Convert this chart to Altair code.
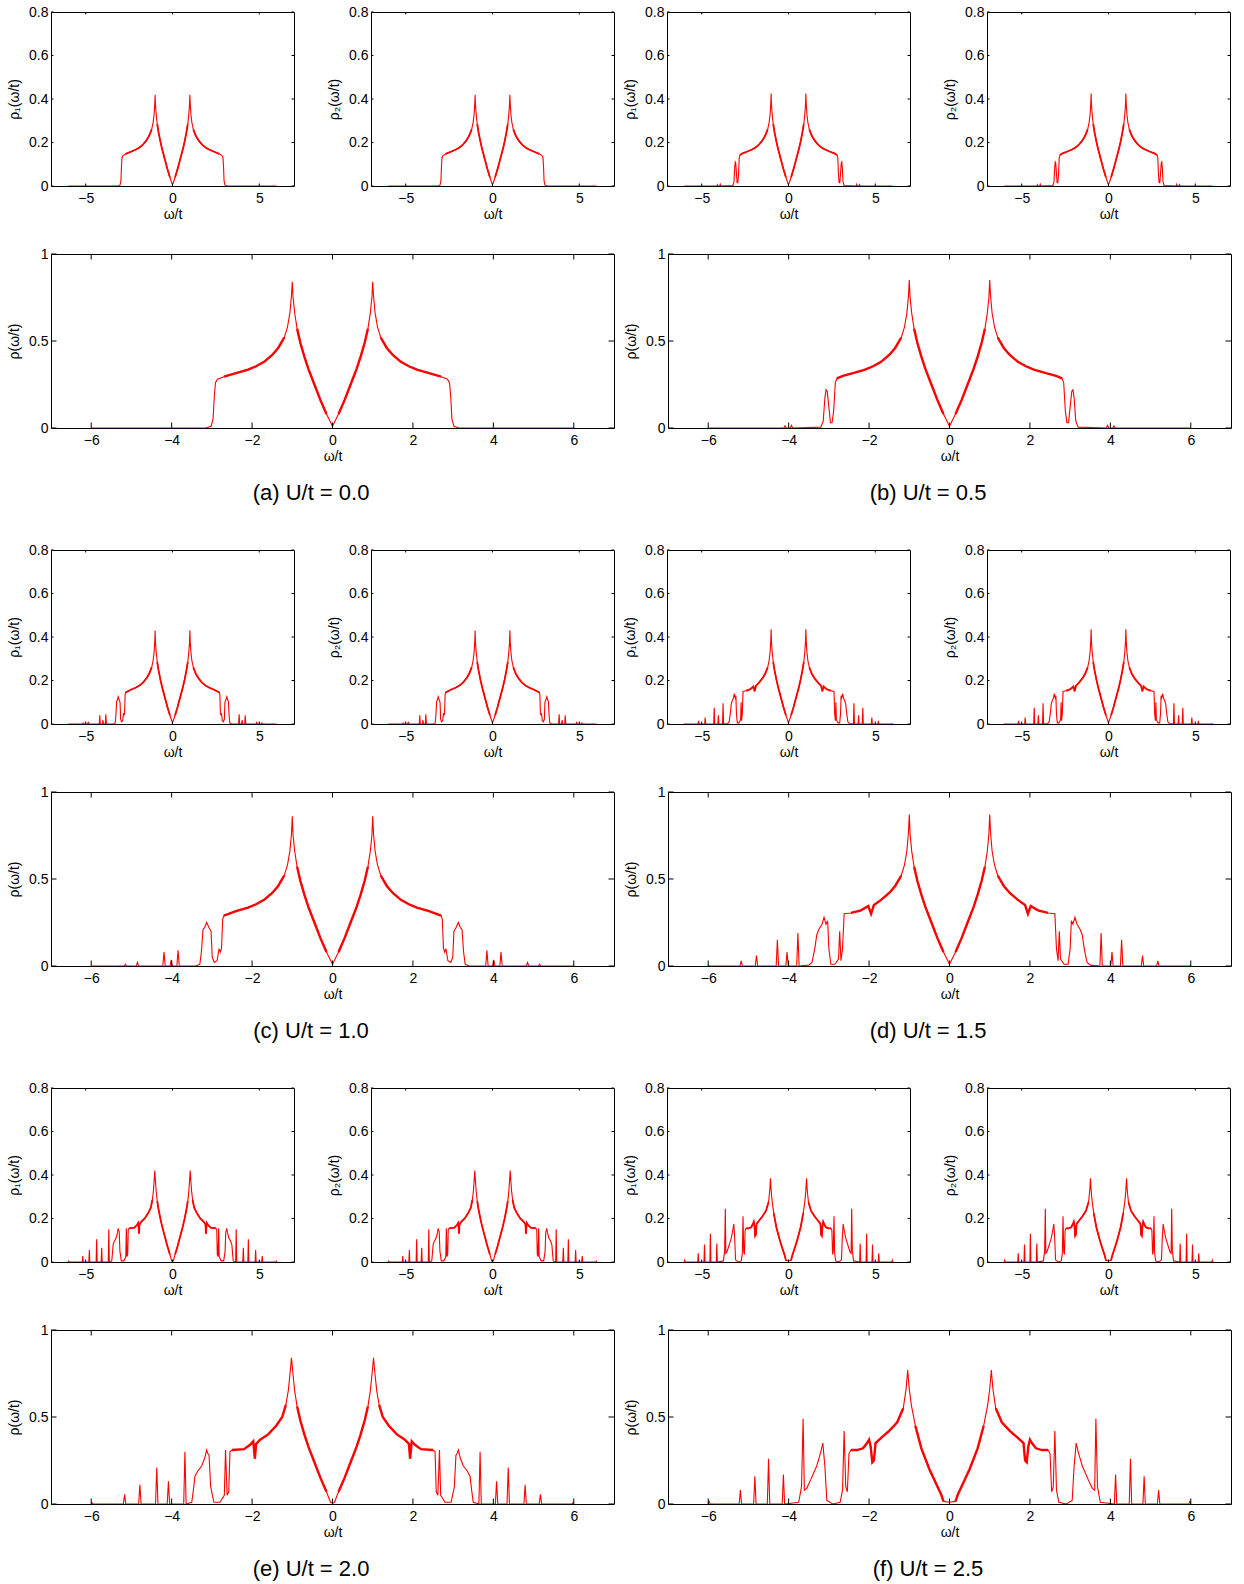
import altair as alt
import pandas as pd

FONT = "Liberation Sans"
RED = "#ff0000"

# ---------------- tick values / captions ----------------
X_TICKS_SMALL = [-5, 0, 5]
X_TICKS_BIG = [-6, -4, -2, 0, 2, 4, 6]
Y_TICKS_SMALL = [0, 0.2, 0.4, 0.6, 0.8]
Y_TICKS_BIG = [0, 0.5, 1]

CAPTIONS = {
    "a": "(a) U/t = 0.0",
    "b": "(b) U/t = 0.5",
    "c": "(c) U/t = 1.0",
    "d": "(d) U/t = 1.5",
    "e": "(e) U/t = 2.0",
    "f": "(f) U/t = 2.5",
}

# ---------------- data: total DOS rho(w/t), read for w >= 0 ----------------
# (every curve in the figure is symmetric about w = 0; rho1 = rho2 = rho/2)
W_A = [0.0, 0.15, 0.3, 0.45, 0.6, 0.7, 0.8, 0.88, 0.94, 0.98, 1.0, 1.02, 1.06, 1.12,
       1.2, 1.35, 1.5, 1.7, 1.9, 2.1, 2.4, 2.7, 2.86, 2.91, 2.94, 2.97, 3.02, 3.15, 6.0]
R_A = [0.01, 0.08, 0.16, 0.25, 0.34, 0.41, 0.49, 0.57, 0.66, 0.75, 0.84, 0.76, 0.66, 0.58,
       0.52, 0.46, 0.42, 0.38, 0.355, 0.335, 0.315, 0.295, 0.28, 0.26, 0.18, 0.05, 0.01, 0.0, 0.0]

W_B = [0.0, 0.15, 0.3, 0.45, 0.6, 0.7, 0.8, 0.88, 0.94, 0.98, 1.0, 1.02, 1.06, 1.12,
       1.2, 1.35, 1.5, 1.7, 1.9, 2.1, 2.4, 2.65, 2.8, 2.84, 2.88, 2.92, 2.96, 3.0, 3.04,
       3.07, 3.1, 3.14, 3.2, 3.9, 3.93, 3.96, 4.06, 4.09, 4.12, 6.0]
R_B = [0.01, 0.08, 0.16, 0.25, 0.34, 0.41, 0.49, 0.57, 0.66, 0.75, 0.85, 0.76, 0.66, 0.58,
       0.52, 0.46, 0.42, 0.38, 0.355, 0.335, 0.315, 0.3, 0.285, 0.26, 0.1, 0.03, 0.03, 0.12, 0.21,
       0.22, 0.17, 0.04, 0.005, 0.0, 0.015, 0.0, 0.0, 0.012, 0.0, 0.0]

W_C = [0.0, 0.15, 0.3, 0.45, 0.6, 0.7, 0.8, 0.88, 0.94, 0.98, 1.0, 1.02, 1.06, 1.12,
       1.2, 1.35, 1.5, 1.7, 1.9, 2.1, 2.4, 2.7, 2.73, 2.76, 2.79, 2.82, 2.87, 2.94, 2.99,
       3.02, 3.07, 3.13, 3.18, 3.22, 3.26, 3.3, 3.4, 3.81, 3.84, 3.87, 3.98, 4.01, 4.04,
       4.16, 4.19, 4.22, 4.82, 4.85, 4.88, 5.12, 5.15, 5.18, 6.0]
R_C = [0.01, 0.08, 0.16, 0.25, 0.34, 0.41, 0.49, 0.57, 0.66, 0.75, 0.86, 0.76, 0.66, 0.58,
       0.52, 0.46, 0.42, 0.38, 0.355, 0.335, 0.315, 0.29, 0.27, 0.1, 0.08, 0.1, 0.03, 0.02, 0.05,
       0.2, 0.22, 0.25, 0.22, 0.21, 0.08, 0.01, 0.0, 0.0, 0.09, 0.0, 0.0, 0.035, 0.0,
       0.0, 0.08, 0.0, 0.0, 0.02, 0.0, 0.0, 0.01, 0.0, 0.0]

W_D = [0.0, 0.15, 0.3, 0.45, 0.6, 0.7, 0.8, 0.88, 0.94, 0.98, 1.0, 1.02, 1.06, 1.12,
       1.2, 1.35, 1.5, 1.7, 1.88, 1.95, 2.02, 2.2, 2.45, 2.62, 2.66, 2.7, 2.73, 2.76, 2.85,
       2.95, 3.0, 3.03, 3.07, 3.12, 3.17, 3.25, 3.3, 3.35, 3.42, 3.5, 3.74, 3.77, 3.8,
       4.01, 4.04, 4.07, 4.25, 4.28, 4.31, 4.77, 4.8, 4.83, 5.15, 5.18, 5.21, 5.97, 6.0]
R_D = [0.01, 0.08, 0.16, 0.25, 0.34, 0.41, 0.49, 0.57, 0.66, 0.76, 0.87, 0.77, 0.66, 0.58,
       0.52, 0.46, 0.42, 0.38, 0.35, 0.3, 0.345, 0.32, 0.305, 0.3, 0.1, 0.03, 0.2, 0.04, 0.01,
       0.01, 0.1, 0.26, 0.24, 0.28, 0.24, 0.21, 0.18, 0.1, 0.02, 0.005, 0.0, 0.19, 0.0,
       0.0, 0.08, 0.0, 0.0, 0.15, 0.0, 0.0, 0.06, 0.0, 0.0, 0.03, 0.0, 0.0, 0.005]

W_E = [0.0, 0.05, 0.15, 0.3, 0.45, 0.6, 0.7, 0.8, 0.88, 0.94, 0.98, 1.02, 1.06, 1.1,
       1.16, 1.25, 1.4, 1.6, 1.8, 1.9, 1.93, 1.97, 2.05, 2.2, 2.5, 2.55, 2.58, 2.62, 2.66,
       2.69, 2.8, 2.95, 3.03, 3.07, 3.1, 3.13, 3.17, 3.25, 3.35, 3.42, 3.46, 3.5, 3.64,
       3.67, 3.7, 4.05, 4.08, 4.11, 4.34, 4.37, 4.4, 4.76, 4.79, 4.82, 5.14, 5.17, 5.2,
       5.95, 5.98, 6.0]
R_E = [0.005, 0.01, 0.07, 0.15, 0.24, 0.33, 0.4, 0.48, 0.56, 0.65, 0.74, 0.84, 0.74, 0.65,
       0.57, 0.5, 0.45, 0.4, 0.37, 0.345, 0.26, 0.36, 0.34, 0.315, 0.31, 0.3, 0.07, 0.05, 0.31,
       0.05, 0.01, 0.01, 0.1, 0.28, 0.29, 0.31, 0.27, 0.22, 0.19, 0.16, 0.08, 0.01, 0.0,
       0.3, 0.0, 0.0, 0.13, 0.0, 0.0, 0.21, 0.0, 0.0, 0.11, 0.0, 0.0, 0.055, 0.0,
       0.0, 0.008, 0.0]

W_F = [0.0, 0.15, 0.2, 0.3, 0.5, 0.7, 0.85, 0.95, 1.0, 1.04, 1.08, 1.15, 1.3, 1.5, 1.7,
       1.84, 1.88, 1.92, 1.96, 2.0, 2.05, 2.15, 2.3, 2.45, 2.5, 2.54, 2.58, 2.62, 2.66,
       2.72, 2.9, 3.05, 3.1, 3.15, 3.2, 3.3, 3.45, 3.55, 3.61, 3.64, 3.68, 3.75, 4.1,
       4.13, 4.16, 4.47, 4.5, 4.53, 4.81, 4.84, 4.87, 5.17, 5.2, 5.23, 5.95, 5.98, 6.0]
R_F = [0.01, 0.015, 0.05, 0.1, 0.2, 0.32, 0.45, 0.57, 0.66, 0.77, 0.66, 0.55, 0.47, 0.42, 0.38,
       0.35, 0.25, 0.24, 0.33, 0.37, 0.35, 0.32, 0.31, 0.31, 0.29, 0.07, 0.1, 0.42, 0.08,
       0.01, 0.0, 0.02, 0.22, 0.35, 0.3, 0.22, 0.14, 0.09, 0.08, 0.49, 0.1, 0.01, 0.0,
       0.17, 0.0, 0.0, 0.26, 0.0, 0.0, 0.16, 0.0, 0.0, 0.08, 0.0, 0.0, 0.015, 0.0]

HALF_DATA = {"a": (W_A, R_A), "b": (W_B, R_B), "c": (W_C, R_C),
             "d": (W_D, R_D), "e": (W_E, R_E), "f": (W_F, R_F)}

# extent of the densely oscillating band (drawn as a thicker stroke)
BAND_EDGE = {"a": 2.85, "b": 2.8, "c": 2.7, "d": 2.6, "e": 2.5, "f": 2.45}

# ---------------- layout sizes ----------------
SW, SH = 243, 174      # small panels
BW, BH = 563, 174      # large panels
SMALL_GAP = 77         # between rho1 and rho2 frames (flush)
PAIR_GAP = 8           # between pair bounds (full bounds)
COL_GAP = 54           # between left and right large frames (flush)
IN_GROUP_GAP = 24      # small-row bounds -> large-row bounds
GROUP_GAP = 37         # caption -> next sub-figure row


def full_frame(w, r):
    ws, rs = [], []
    for x, y in zip(reversed(w), reversed(r)):
        if x > 0:
            ws.append(-x)
            rs.append(y)
    ws += list(w)
    rs += list(r)
    return pd.DataFrame({"w": ws, "rho": rs, "half": [v / 2 for v in rs]})


LABEL_EXPR = "replace(toString(datum.value), '-', '\u2212')"


def panel(df, field, ytitle, width, height, ydom, xticks, yticks, tick_len,
          band_edge, band_width, title=None):
    xs = alt.Scale(domain=[-7, 7], nice=False, zero=False)
    ys = alt.Scale(domain=ydom, nice=False, zero=False)
    xax = alt.Axis(values=xticks, title="ω/t", labelExpr=LABEL_EXPR)
    yax = alt.Axis(values=yticks, title=ytitle, labelExpr=LABEL_EXPR)
    line = alt.Chart(df).mark_line(color=RED, strokeWidth=1.1, clip=True).encode(
        x=alt.X("w:Q", scale=xs, axis=xax),
        y=alt.Y(f"{field}:Q", scale=ys, axis=yax),
    )
    band = alt.Chart(df).transform_filter(
        f"abs(datum.w) <= {band_edge} && abs(datum.w) >= 0.1 && (abs(datum.w) <= 0.9 || abs(datum.w) >= 1.15)"
    ).transform_calculate(
        seg="abs(datum.w) < 1 ? (datum.w < 0 ? 1 : 2) : (datum.w < 0 ? 0 : 3)"
    ).mark_line(color=RED, strokeWidth=band_width, clip=True).encode(
        x=alt.X("w:Q", scale=xs, axis=xax),
        y=alt.Y(f"{field}:Q", scale=ys, axis=yax),
        detail="seg:N",
    )
    xt = pd.DataFrame({"w": xticks})
    yt = pd.DataFrame({field: yticks})
    rule = dict(color="black", strokeWidth=1)
    tb = alt.Chart(xt).mark_rule(**rule).encode(
        x=alt.X("w:Q", scale=xs, axis=xax),
        y=alt.value(height), y2=alt.value(height - tick_len))
    tt = alt.Chart(xt).mark_rule(**rule).encode(
        x=alt.X("w:Q", scale=xs, axis=xax),
        y=alt.value(0), y2=alt.value(tick_len))
    tl = alt.Chart(yt).mark_rule(**rule).encode(
        y=alt.Y(f"{field}:Q", scale=ys, axis=yax),
        x=alt.value(0), x2=alt.value(tick_len))
    tr = alt.Chart(yt).mark_rule(**rule).encode(
        y=alt.Y(f"{field}:Q", scale=ys, axis=yax),
        x=alt.value(width - tick_len), x2=alt.value(width))
    ch = alt.layer(line, band, tb, tt, tl, tr).properties(width=width, height=height)
    if title is not None:
        ch = ch.properties(title=alt.TitleParams(
            text=title, orient="bottom", anchor="middle", frame="bounds",
            fontSize=22, font=FONT, fontWeight="normal", color="black", offset=20))
    return ch


def small_pair(key):
    df = full_frame(*HALF_DATA[key])
    args = dict(width=SW, height=SH, ydom=[0, 0.8], xticks=X_TICKS_SMALL,
                yticks=Y_TICKS_SMALL, tick_len=2.5, band_edge=BAND_EDGE[key], band_width=1.8)
    p1 = panel(df, "half", "ρ₁(ω/t)", **args)
    p2 = panel(df, "half", "ρ₂(ω/t)", **args)
    return alt.hconcat(p1, p2, spacing=SMALL_GAP, bounds="flush")


def big(key):
    df = full_frame(*HALF_DATA[key])
    return panel(df, "rho", "ρ(ω/t)", BW, BH, [0, 1], X_TICKS_BIG, Y_TICKS_BIG, 5.5,
                 BAND_EDGE[key], 2.4, title=CAPTIONS[key])


def group_row(left, right):
    small_row = alt.hconcat(small_pair(left), small_pair(right), spacing=PAIR_GAP)
    big_row = alt.hconcat(big(left), big(right), spacing=COL_GAP, bounds="flush")
    return alt.vconcat(small_row, big_row, spacing=IN_GROUP_GAP)


rows = [group_row(a, b) for a, b in (("a", "b"), ("c", "d"), ("e", "f"))]

chart = alt.vconcat(*rows, spacing=GROUP_GAP).properties(
    padding={"left": 7, "top": 4, "right": 5, "bottom": 0},
    background="white",
).configure_view(
    stroke="black", strokeWidth=1
).configure_axis(
    domain=False, ticks=False, tickSize=0, grid=False,
    labelFont=FONT, labelFontSize=14, labelColor="black",
    titleFont=FONT, titleFontSize=14, titleFontWeight="normal", titleColor="black",
    labelOverlap=False,
).configure_axisX(
    labelPadding=5, titlePadding=2
).configure_axisY(
    labelPadding=3, titlePadding=7
)

chart.save("out.html", embed_options={"renderer": "svg", "actions": False})
